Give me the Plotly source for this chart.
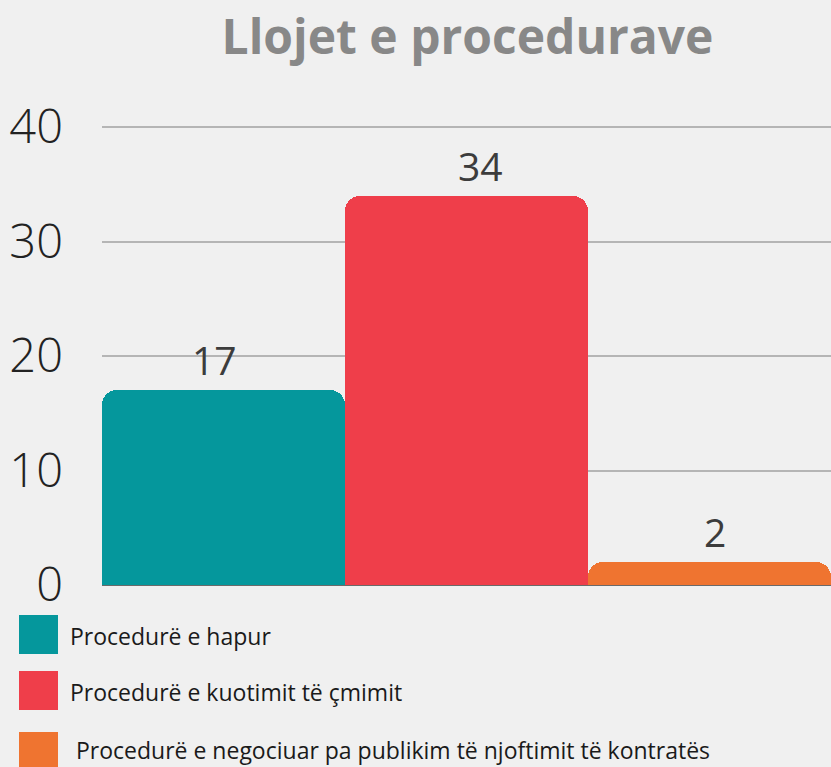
import plotly.graph_objects as go

categories = ["Procedurë e hapur", "Procedurë e kuotimit të çmimit",
              "Procedurë e negociuar pa publikim të njoftimit të kontratës"]
values = [17, 34, 2]
colors = ["#05979c", "#ef3e4a", "#ef7430"]
tick_vals = [0, 10, 20, 30, 40]

# label placement tweaks (pixels), kept separate from data
label_xshift = [-9, 14, 5]

W, H = 831, 767
L, R, T, B = 102, 0, 125, 182
pw, ph = W - L - R, H - T - B
y_top = 40 + 2 / 11.45  # leave 2px above the 40 gridline so it is drawn

def px_x(px):
    return (px - L) / pw

def px_y(py):
    return (H - B - py) / ph

fig = go.Figure()
fig.add_trace(go.Bar(
    x=categories, y=values, marker=dict(color=colors, line=dict(width=0)),
    showlegend=False, hoverinfo="skip",
))

# value labels
for c, v, xs in zip(categories, values, label_xshift):
    fig.add_annotation(x=c, y=v, text=str(v), showarrow=False, yanchor="bottom",
                       yshift=2, xshift=xs,
                       font=dict(family="Open Sans", size=39, color="#3c3c3c"))

# custom legend
legend_rows = [(615, 654, 68, 636), (671, 710, 68, 692), (732, 771, 74, 750)]
for (y0, y1, tx, ty), c, col in zip(legend_rows, categories, colors):
    fig.add_shape(type="rect", xref="paper", yref="paper",
                  x0=px_x(19), x1=px_x(58), y0=px_y(y1), y1=px_y(y0),
                  fillcolor=col, line=dict(width=0))
    fig.add_annotation(xref="paper", yref="paper", x=px_x(tx), y=px_y(ty),
                       xanchor="left", yanchor="middle", showarrow=False, text=c,
                       font=dict(family="Open Sans", size=23, color="#1a1a1a", weight=500))

fig.update_layout(
    width=W, height=H,
    margin=dict(l=L, r=R, t=T, b=B, pad=0),
    paper_bgcolor="#f0f0f0", plot_bgcolor="#f0f0f0",
    bargap=0,
    title=dict(text="<b>Llojet e procedurave</b>", x=467.5 / W, xanchor="center",
               xref="container", y=1 - 37 / H, yanchor="middle",
               font=dict(family="Open Sans", size=48, color="#888888", weight=800)),
    xaxis=dict(showticklabels=False, showgrid=False, zeroline=False,
               showline=False, ticks=""),
    yaxis=dict(range=[0, y_top], tickvals=tick_vals, showgrid=True, gridcolor="#b5b5b5",
               gridwidth=1.5, zeroline=True, zerolinecolor="#6a6a6a", zerolinewidth=2,
               showline=False, ticks="", ticklabelstandoff=38,
               tickfont=dict(family="Open Sans", size=47, color="#222222", weight=300)),
    barcornerradius=15,
)

fig.write_html("out.html", config={"displayModeBar": False},
               post_script="document.body.style.margin='0';")
